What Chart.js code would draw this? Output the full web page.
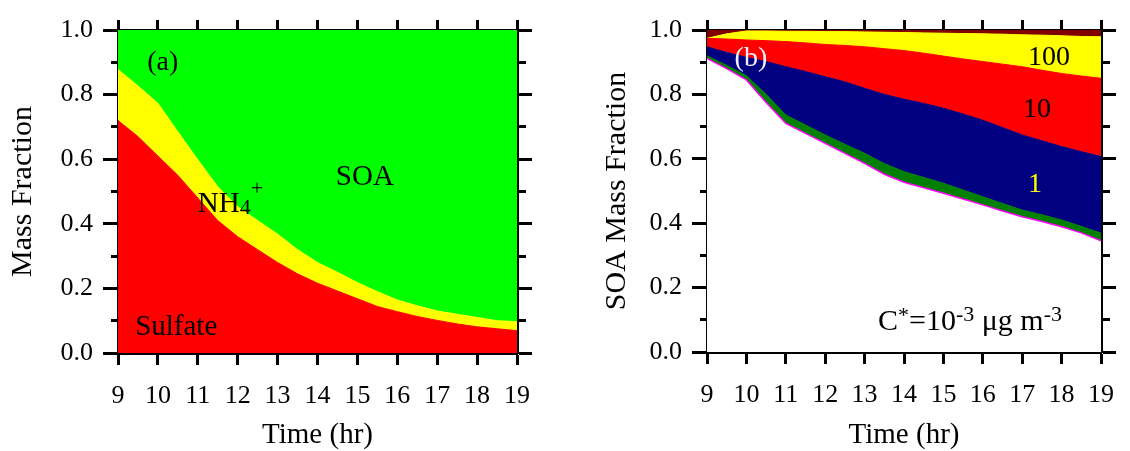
<!DOCTYPE html>
<html><head><meta charset="utf-8">
<script src="https://cdn.jsdelivr.net/npm/chart.js@4"></script>
<style>
html,body{margin:0;padding:0;background:#fff;}
#wrap{position:relative;width:1130px;height:451px;overflow:hidden;background:#fff;}
canvas{position:absolute;top:0;}
#ca{left:0;} #cb{left:565px;}
</style></head><body>
<div id="wrap"><canvas id="ca" width="565" height="451"></canvas><canvas id="cb" width="565" height="451"></canvas></div>
<script>
// ---- data ----
const hours = [9, 9.5, 10, 10.5, 11, 11.5, 12, 12.5, 13, 13.5, 14, 14.5, 15, 15.5, 16, 16.5, 17, 17.5, 18, 18.5, 19];
const xTicks = [9, 10, 11, 12, 13, 14, 15, 16, 17, 18, 19];
const xTickLabels = ['9', '10', '11', '12', '13', '14', '15', '16', '17', '18', '19'];
const yTicks = [0, 0.1, 0.2, 0.3, 0.4, 0.5, 0.6, 0.7, 0.8, 0.9, 1.0];
const yTickLabels = ['0.0', '', '0.2', '', '0.4', '', '0.6', '', '0.8', '', '1.0'];

// panel (a): mass fractions
const sulfate = [0.72, 0.67, 0.61, 0.55, 0.48, 0.41, 0.36, 0.32, 0.28, 0.245, 0.216, 0.192, 0.168, 0.144, 0.128, 0.113, 0.101, 0.090, 0.081, 0.075, 0.069];
const nh4     = [0.158, 0.157, 0.163, 0.135, 0.118, 0.105, 0.093, 0.090, 0.088, 0.075, 0.064, 0.058, 0.050, 0.046, 0.036, 0.033, 0.029, 0.030, 0.029, 0.025, 0.028];
const soa     = [0.122, 0.173, 0.227, 0.315, 0.402, 0.485, 0.547, 0.590, 0.632, 0.680, 0.720, 0.750, 0.782, 0.810, 0.836, 0.854, 0.870, 0.880, 0.890, 0.900, 0.903];

// panel (b): SOA mass fraction by volatility bin (C*)
const bin1em3 = [0.912, 0.88, 0.845, 0.775, 0.71, 0.679, 0.648, 0.617, 0.586, 0.552, 0.527, 0.51, 0.493, 0.475, 0.457, 0.438, 0.42, 0.405, 0.389, 0.37, 0.345];
const bin1em1 = [0.008, 0.01, 0.013, 0.025, 0.026, 0.026, 0.026, 0.028, 0.031, 0.033, 0.033, 0.032, 0.031, 0.028, 0.025, 0.023, 0.021, 0.021, 0.021, 0.02, 0.024];
const bin1    = [0.028, 0.04, 0.057, 0.102, 0.15, 0.166, 0.181, 0.194, 0.202, 0.215, 0.225, 0.23, 0.233, 0.236, 0.238, 0.236, 0.233, 0.23, 0.228, 0.232, 0.238];
const bin10   = [0.026, 0.042, 0.054, 0.065, 0.078, 0.089, 0.10, 0.113, 0.129, 0.142, 0.151, 0.156, 0.162, 0.171, 0.182, 0.197, 0.212, 0.219, 0.227, 0.235, 0.243];
const bin100  = [0.0, 0.016, 0.028, 0.03, 0.032, 0.036, 0.04, 0.043, 0.046, 0.051, 0.056, 0.063, 0.071, 0.079, 0.086, 0.093, 0.099, 0.109, 0.117, 0.123, 0.129];
const bin1000 = [0.026, 0.012, 0.003, 0.003, 0.004, 0.004, 0.005, 0.005, 0.006, 0.007, 0.008, 0.009, 0.01, 0.011, 0.012, 0.013, 0.015, 0.016, 0.018, 0.02, 0.021];

// ---- rendering ----
const FONT = '"Liberation Serif", "Times New Roman", serif';
const pts = arr => hours.map((h, i) => ({x: h, y: arr[i]}));

function area(label, arr, color, i, border, bw) {
  return {label, data: pts(arr), fill: i === 0 ? 'origin' : '-1',
    backgroundColor: color, borderColor: border || color, borderWidth: bw || 1,
    pointRadius: 0, tension: 0};
}

const setTicks = vals => s => { s.ticks = vals.map(v => ({value: v})); };
const frame = {display: true, color: '#000', width: 3};

function makeScales(cfg) {
  return {
    x: {type: 'linear', position: 'bottom', min: 9, max: 19, z: 1,
      afterBuildTicks: setTicks(xTicks),
      afterFit: s => { s.height = cfg.bottomH; },
      grid: {drawOnChartArea: false, drawTicks: true, tickLength: 12, tickWidth: 3, tickColor: '#000'},
      border: frame,
      ticks: {font: {family: FONT, size: 26}, color: '#000', padding: 16, maxRotation: 0, autoSkip: false,
        callback: (v, i) => xTickLabels[i]},
      title: {display: true, text: 'Time (hr)', font: {family: FONT, size: 29}, color: '#000', padding: {top: 0, bottom: -2}}
    },
    xTop: {type: 'linear', position: 'top', min: 9, max: 19, z: 1,
      afterBuildTicks: setTicks(xTicks),
      afterFit: s => { s.height = 30; },
      grid: {drawOnChartArea: false, drawTicks: true, tickLength: 10, tickWidth: 3, tickColor: '#000'},
      border: frame, ticks: {display: false}
    },
    y: {type: 'linear', position: 'left', min: 0, max: 1, stacked: true, z: 1,
      afterBuildTicks: setTicks(yTicks),
      afterFit: s => { s.width = cfg.leftW; },
      grid: {drawOnChartArea: false, drawTicks: true, tickLength: 15, tickWidth: 3, tickColor: '#000',
        tickBorderDash: c => (c.index % 2 ? [7, 8] : []),
        tickBorderDashOffset: c => (c.index % 2 ? 7 : 0)},
      border: frame,
      ticks: {font: {family: FONT, size: 26}, color: '#000', padding: 10, autoSkip: false,
        callback: (v, i) => yTickLabels[i]},
      title: {display: true, text: cfg.yTitle, font: {family: FONT, size: 30}, color: '#000', padding: {top: cfg.yTitlePad, bottom: 0}}
    },
    yRight: {type: 'linear', position: 'right', min: 0, max: 1, z: 1,
      afterBuildTicks: setTicks(yTicks),
      afterFit: s => { s.width = cfg.rightW; },
      grid: {drawOnChartArea: false, drawTicks: true, tickLength: 15, tickWidth: 3, tickColor: '#000',
        tickBorderDash: c => (c.index % 2 ? [7, 100] : []),
        tickBorderDashOffset: 0},
      border: frame, ticks: {display: false}
    }
  };
}

const annotPlugin = {
  id: 'annot',
  afterDatasetsDraw(chart, args, opts) {
    const ctx = chart.ctx, xs = chart.scales.x, ys = chart.scales.y;
    ctx.save();
    ctx.textBaseline = 'alphabetic';
    ctx.textAlign = 'left';
    for (const it of opts.items) {
      let x = xs.getPixelForValue(it.t);
      const y = ys.getPixelForValue(it.v);
      for (const p of it.parts) {
        ctx.font = p.s + 'px ' + FONT;
        ctx.fillStyle = p.c || it.c || '#000';
        ctx.fillText(p.t, x, y + (p.dy || 0));
        x += ctx.measureText(p.t).width;
      }
    }
    ctx.restore();
  }
};

function baseOptions(cfg, items) {
  return {
    responsive: false, animation: false, devicePixelRatio: 1,
    layout: {padding: 0},
    plugins: {legend: {display: false}, tooltip: {enabled: false}, annot: {items}},
    scales: makeScales(cfg)
  };
}

new Chart(document.getElementById('ca'), {
  type: 'line',
  data: {datasets: [
    area('Sulfate', sulfate, '#ff0000', 0),
    area('NH4+', nh4, '#ffff00', 1),
    area('SOA', soa, '#00ff00', 2)
  ]},
  options: baseOptions({leftW: 118, rightW: 48, bottomH: 98, yTitle: 'Mass Fraction', yTitlePad: 5}, [
    {t: 9.73, v: 0.876, parts: [{t: '(a)', s: 28}]},
    {t: 14.46, v: 0.52, parts: [{t: 'SOA', s: 29}]},
    {t: 11.0, v: 0.437, parts: [{t: 'NH', s: 29}, {t: '4', s: 22, dy: 2}, {t: '+', s: 22, dy: -17}]},
    {t: 9.43, v: 0.056, parts: [{t: 'Sulfate', s: 29}]}
  ]),
  plugins: [annotPlugin]
});

new Chart(document.getElementById('cb'), {
  type: 'line',
  data: {datasets: [
    area('C*=1e-3', bin1em3, '#ffffff', 0, '#ff00ff', 1.5),
    area('C*=0.1', bin1em1, '#008000', 1),
    area('C*=1', bin1, '#000080', 2),
    area('C*=10', bin10, '#ff0000', 3),
    area('C*=100', bin100, '#ffff00', 4),
    area('C*=1000', bin1000, '#800000', 5)
  ]},
  options: baseOptions({leftW: 142, rightW: 24, bottomH: 99, yTitle: 'SOA Mass Fraction', yTitlePad: 34}, [
    {t: 9.70, v: 0.888, c: '#f2f2ff', parts: [{t: '(b)', s: 28}]},
    {t: 17.15, v: 0.891, parts: [{t: '100', s: 28}]},
    {t: 17.02, v: 0.73, parts: [{t: '10', s: 28}]},
    {t: 17.15, v: 0.497, c: '#ffff00', parts: [{t: '1', s: 28}]},
    {t: 13.34, v: 0.068, parts: [{t: 'C', s: 30}, {t: '*', s: 22, dy: -8}, {t: '=10', s: 30}, {t: '-3', s: 22, dy: -9}, {t: ' \u03bcg m', s: 30}, {t: '-3', s: 22, dy: -9}]}
  ]),
  plugins: [annotPlugin]
});
</script>
</body></html>
